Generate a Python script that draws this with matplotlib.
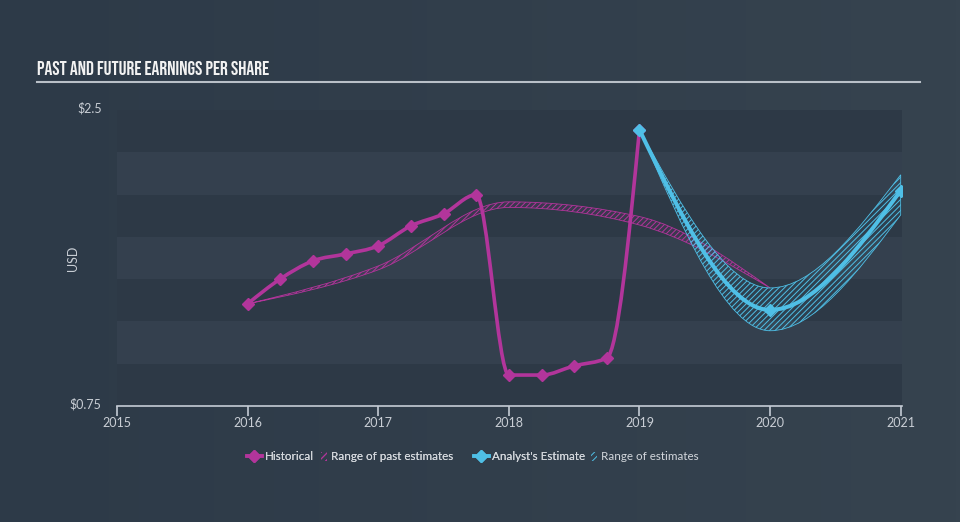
import numpy as np
import matplotlib
matplotlib.use('Agg')
import matplotlib.pyplot as plt
from matplotlib.path import Path
from matplotlib.patches import PathPatch, Patch
from matplotlib.lines import Line2D
from matplotlib.transforms import ScaledTranslation
from matplotlib.colors import LinearSegmentedColormap

# ---------------- data ----------------
hist_x = [2016.0, 2016.25, 2016.5, 2016.75, 2017.0, 2017.25, 2017.5, 2017.75,
          2018.0, 2018.25, 2018.5, 2018.75, 2019.0]
hist_eps = [1.354, 1.501, 1.608, 1.649, 1.697, 1.815, 1.886, 1.999,
            0.933, 0.933, 0.987, 1.034, 2.383]

past_x = [2016, 2017, 2018, 2019, 2020]
past_low = [1.354, 1.555, 1.924, 1.820, 1.448]
past_high = [1.354, 1.578, 1.957, 1.870, 1.448]

est_x = [2019, 2020, 2021]
est_eps = [2.383, 1.318, 2.024]
est_low = [2.383, 1.195, 1.880]
est_high = [2.383, 1.448, 2.117]

x_ticks = [2015, 2016, 2017, 2018, 2019, 2020, 2021]
y_ticks = [0.75, 2.5]
y_labels = ['\\$0.75', '\\$2.5']

title = 'PAST AND FUTURE EARNINGS PER SHARE'
legend_labels = ['Historical', 'Range of past estimates',
                 "Analyst's Estimate", 'Range of estimates']

# ---------------- style ----------------
C_HIST = '#b2359b'
C_EST = '#4fbfe6'
C_TXT = '#c9ced5'
BG = '#333f4d'
BAND_DARK = '#2d3946'
BAND_LIGHT = '#34404e'

plt.rcParams['font.family'] = ['Lato', 'DejaVu Sans']
plt.rcParams['hatch.linewidth'] = 0.7


def mono_slopes(x, y):
    x = np.asarray(x, float)
    y = np.asarray(y, float)
    n = len(x)
    m = np.zeros(n)
    if n == 2:
        m[:] = (y[1] - y[0]) / (x[1] - x[0])
        return m
    sgn = lambda v: -1.0 if v < 0 else 1.0
    for i in range(1, n - 1):
        h0 = x[i] - x[i - 1]
        h1 = x[i + 1] - x[i]
        s0 = (y[i] - y[i - 1]) / h0
        s1 = (y[i + 1] - y[i]) / h1
        p = (s0 * h1 + s1 * h0) / (h0 + h1)
        m[i] = (sgn(s0) + sgn(s1)) * min(abs(s0), abs(s1), 0.5 * abs(p))
    m[0] = (3 * (y[1] - y[0]) / (x[1] - x[0]) - m[1]) / 2
    m[-1] = (3 * (y[-1] - y[-2]) / (x[-1] - x[-2]) - m[-2]) / 2
    return m


def bezier(x, y):
    m = mono_slopes(x, y)
    verts = [(x[0], y[0])]
    codes = [Path.MOVETO]
    for i in range(len(x) - 1):
        dx = (x[i + 1] - x[i]) / 3.0
        verts += [(x[i] + dx, y[i] + dx * m[i]),
                  (x[i + 1] - dx, y[i + 1] - dx * m[i + 1]),
                  (x[i + 1], y[i + 1])]
        codes += [Path.CURVE4] * 3
    return verts, codes


def line_path(x, y):
    v, c = bezier(x, y)
    return Path(v, c)


def area_path(x, lo, hi):
    vu, cu = bezier(x, hi)
    vl, cl = bezier(x, lo)
    vl = vl[::-1]
    verts = vu + vl + [vu[0]]
    codes = cu + [Path.LINETO] + [Path.CURVE4] * (len(vl) - 1) + [Path.CLOSEPOLY]
    return Path(verts, codes)


fig = plt.figure(figsize=(9.6, 5.22), dpi=100)
fig.patch.set_facecolor(BG)

# subtle background gradient
bgax = fig.add_axes([0, 0, 1, 1], zorder=-10)
grad = np.linspace(0, 1, 256)[None, :]
cmap = LinearSegmentedColormap.from_list('bg', ['#2d3a48', '#36434f'])
bgax.imshow(grad, aspect='auto', cmap=cmap, extent=[0, 1, 0, 1])
bgax.set_axis_off()

ax = fig.add_axes([117 / 960, (522 - 406) / 522, (902 - 117) / 960, (406 - 110) / 522])
ax.set_facecolor('none')
ax.set_xlim(2015, 2021.01)
ax.set_ylim(0.75, 2.5)

# horizontal bands
edges = np.linspace(0.75, 2.5, 8)
for i in range(7):
    col = BAND_DARK if i % 2 == 0 else BAND_LIGHT
    ax.axhspan(edges[i], edges[i + 1], color=col, lw=0, zorder=0)

# past estimates range
ax.add_patch(PathPatch(area_path(past_x, past_low, past_high),
                       facecolor=(0.7, 0.2, 0.6, 0.1), edgecolor=C_HIST,
                       hatch='//////', lw=0.6, zorder=2))
# historical line
ax.add_patch(PathPatch(line_path(hist_x, hist_eps), facecolor='none',
                       edgecolor=C_HIST, lw=2.6, zorder=3, capstyle='round',
                       joinstyle='round'))
ax.plot(hist_x, hist_eps, ls='none', marker='D', ms=6.5, color=C_HIST, zorder=4)

# estimate range
ax.add_patch(PathPatch(area_path(est_x, est_low, est_high),
                       facecolor=(0.3, 0.75, 0.9, 0.06), edgecolor=C_EST,
                       hatch='//////', lw=0.6, zorder=5))
ax.add_patch(PathPatch(line_path(est_x, est_eps), facecolor='none',
                       edgecolor=C_EST, lw=2.9, zorder=6, capstyle='round',
                       joinstyle='round'))
ax.plot(est_x, est_eps, ls='none', marker='D', ms=6.5, color=C_EST, zorder=7)

# axes styling
for s in ['top', 'right', 'left']:
    ax.spines[s].set_visible(False)
ax.spines['bottom'].set_color('#c5ccd5')
ax.spines['bottom'].set_linewidth(1.2)
ax.set_xticks(x_ticks)
ax.set_xticklabels([str(t) for t in x_ticks])
ax.tick_params(axis='x', colors='#c5ccd5', length=7, width=1.2, labelsize=9,
               labelcolor=C_TXT, pad=1)
ax.set_yticks(y_ticks)
ax.set_yticklabels(y_labels)
ax.tick_params(axis='y', length=0, labelsize=9, labelcolor=C_TXT, pad=11)
for lab in ax.get_yticklabels():
    lab.set_transform(lab.get_transform() + ScaledTranslation(0, 3 / 100, fig.dpi_scale_trans))
ax.set_ylabel('USD', color=C_TXT, fontsize=9)
ax.yaxis.set_label_coords(-0.048, 0.5)

# title and underline
fig.text(37 / 960, 1 - 68 / 522, title, fontsize=14, fontweight='bold',
         color='#f2f2f2',
         family=['Bebas Neue', 'Oswald', 'Fjalla One', 'Roboto Condensed', 'DejaVu Sans'],
         va='center', ha='left')
fig.add_artist(Line2D([37 / 960, 920 / 960], [1 - 82 / 522, 1 - 82 / 522],
                      color='#b9c0c8', lw=1.5))

# legend: four single-entry legends for exact spacing
h_hist = Line2D([], [], color=C_HIST, lw=2.6, marker='D', ms=6.5)
h_past = Patch(facecolor='none', edgecolor=C_HIST, hatch='/////', lw=0)
h_est = Line2D([], [], color=C_EST, lw=2.6, marker='D', ms=6.5)
h_rng = Patch(facecolor='none', edgecolor=C_EST, hatch='/////', lw=0)
entries = [(h_hist, legend_labels[0], 247, 1.25),
           (h_past, legend_labels[1], 321, 0.55),
           (h_est, legend_labels[2], 474, 1.25),
           (h_rng, legend_labels[3], 591, 0.55)]
legs = []
for h, lab, xpx, hl in entries:
    lg = fig.legend([h], [lab], loc='center left',
                    bbox_to_anchor=(xpx / 960, 1 - 457 / 522), frameon=False,
                    handlelength=hl, handleheight=0.9, handletextpad=0.3,
                    borderpad=0, borderaxespad=0, fontsize=8.4,
                    labelcolor='#d3d7dc')
    legs.append(lg)
for lg in legs[:-1]:
    fig.add_artist(lg)

fig.savefig('out.png', dpi=100, facecolor=fig.get_facecolor())
